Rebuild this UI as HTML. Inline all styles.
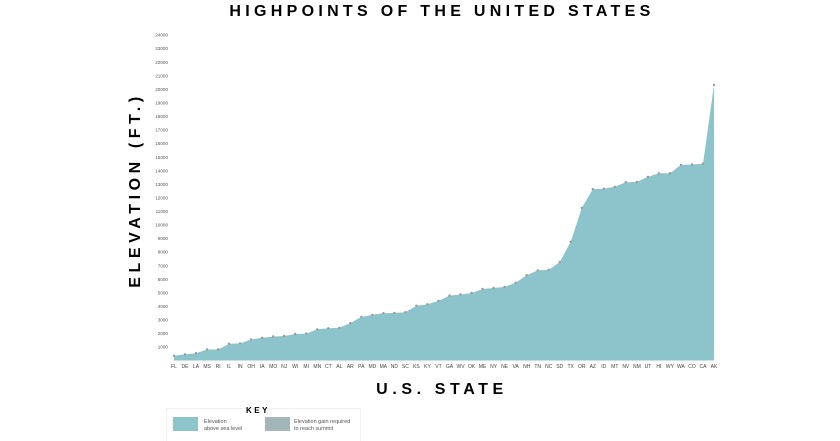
<!DOCTYPE html>
<html><head><meta charset="utf-8"><style>
html,body{margin:0;padding:0;background:#fff;width:840px;height:441px;overflow:hidden}
</style></head><body>
<svg id="s" width="840" height="441" xmlns="http://www.w3.org/2000/svg" font-family="Liberation Sans, sans-serif">
<text x="442" y="16" text-anchor="middle" font-size="16" font-weight="bold" letter-spacing="4.3">HIGHPOINTS OF THE UNITED STATES</text>
<text transform="translate(140,190) rotate(-90)" text-anchor="middle" font-size="16" font-weight="bold" letter-spacing="4.6">ELEVATION (FT.)</text>
<text x="442" y="394" text-anchor="middle" font-size="16" font-weight="bold" letter-spacing="4.6">U.S. STATE</text>
<rect x="166.5" y="408.5" width="194" height="33" fill="#fff" stroke="#f0f0f0"/>
<text x="258" y="413" text-anchor="middle" font-size="8" font-weight="bold" letter-spacing="2.5">KEY</text>
<rect x="173" y="417" width="25" height="14" fill="#8dc4cc"/>
<text x="204" y="423" font-size="5.5" fill="#555">Elevation</text>
<text x="204" y="430" font-size="5.5" fill="#555">above sea level</text>
<rect x="265" y="417" width="25" height="14" fill="#a3b6ba"/>
<text x="294" y="423" font-size="5.5" fill="#555">Elevation gain required</text>
<text x="294" y="430" font-size="5.5" fill="#555">to reach summit</text>
<g id="g"></g>
</svg>
<script>
var st="FL DE LA MS RI IL IN OH IA MO NJ WI MI MN CT AL AR PA MD MA ND SC KS KY VT GA WV OK ME NY NE VA NH TN NC SD TX OR AZ ID MT NV NM UT HI WY WA CO CA AK".split(" ");
var el=[345,448,535,807,812,1235,1257,1549,1670,1772,1803,1951,1979,2301,2380,2413,2753,3213,3360,3489,3506,3560,4039,4145,4393,4784,4863,4973,5267,5344,5424,5729,6288,6643,6684,7242,8751,11249,12633,12662,12799,13140,13161,13528,13796,13804,14411,14440,14505,20310];
var x0=174,dx=(714-174)/49,y0=360.5,k=13.57/1000;
var h='',p='M'+x0+','+y0;
for(var i=0;i<50;i++){var x=x0+i*dx,y=y0-el[i]*k;p+=' L'+x.toFixed(1)+','+y.toFixed(1);}
p+=' L714,'+y0+' Z';
h+='<path d="'+p+'" fill="#8dc4cc"/>';
for(var i=0;i<50;i++){var x=x0+i*dx,y=y0-el[i]*k;h+='<circle cx="'+x.toFixed(1)+'" cy="'+y.toFixed(1)+'" r="1.2" fill="#999"/>';
h+='<text x="'+x.toFixed(1)+'" y="368" text-anchor="middle" font-size="5" fill="#444">'+st[i]+'</text>';}
for(var v=1;v<=24;v++){var y=y0-v*1000*k;h+='<text x="168" y="'+(y+1.8).toFixed(1)+'" text-anchor="end" font-size="4.6" fill="#555">'+(v*1000)+'</text>';}
document.getElementById('g').innerHTML=h;
</script>
</body></html>
